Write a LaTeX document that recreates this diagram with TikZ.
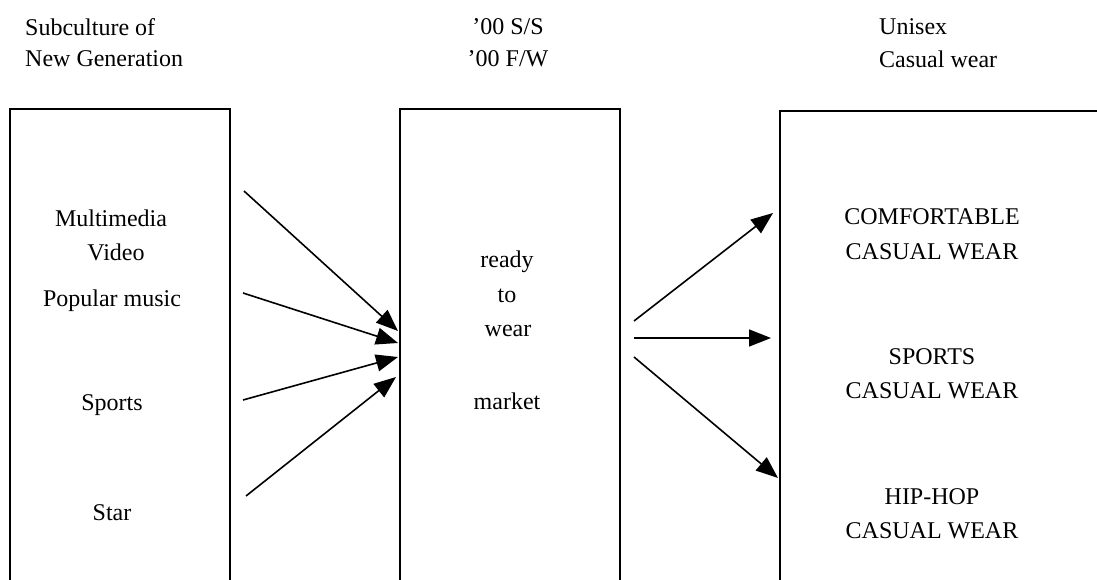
\documentclass[tikz,border=0pt]{standalone}
\usepackage{fontspec}
\setmainfont{Liberation Serif}
\usetikzlibrary{arrows.meta}
\begin{document}
\begin{tikzpicture}[x=1pt,y=-1pt,
  lbl/.style={inner sep=0pt, font=\fontsize{24}{28}\selectfont},
  panel/.style={draw, line width=1.8pt, inner sep=0pt, anchor=north west, minimum height=520pt},
  arr/.style={line width=1.6pt, -{Triangle[length=22pt,width=17pt]}}]
\useasboundingbox (0,0) rectangle (1097,580);
\clip (0,0) rectangle (1097,580);
\fill[white] (0,0) rectangle (1097,580);
% panels
\node[panel, minimum width=220pt] (L) at (9,108) {};
\node[panel, minimum width=220pt] (M) at (399,108) {};
\node[panel, minimum width=340pt] (R) at (779,110) {};
% headings
\node[lbl, anchor=west] (h1) at (25,27) {Subculture of};
\node[lbl, anchor=west] (h2) at (25,59) {New Generation};
\node[lbl] (h3) at (508,27) {’00 S/S};
\node[lbl] (h4) at (508,59) {’00 F/W};
\node[lbl, anchor=west] (h5) at (879,27) {Unisex};
\node[lbl, anchor=west] (h6) at (879,59) {Casual wear};
% left texts
\node[lbl] (l1) at (111,218) {Multimedia};
\node[lbl] (l2) at (116,252) {Video};
\node[lbl] (l3) at (112,301) {Popular music};
\node[lbl] (l4) at (112,405) {Sports};
\node[lbl] (l5) at (112,513) {Star};
% middle texts
\node[lbl] (m1) at (507,262) {ready};
\node[lbl] (m2) at (507,296) {to};
\node[lbl] (m3) at (508,331) {wear};
\node[lbl] (m4) at (507,401) {market};
% right texts
\node[lbl] (r1) at (932,217) {COMFORTABLE};
\node[lbl] (r2) at (932,252) {CASUAL WEAR};
\node[lbl] (r3) at (932,357) {SPORTS};
\node[lbl] (r4) at (932,391) {CASUAL WEAR};
\node[lbl] (r5) at (932,497) {HIP-HOP};
\node[lbl] (r6) at (932,531) {CASUAL WEAR};
% arrow endpoints
\coordinate (a1s) at (244,191); \coordinate (a1e) at (398,331);
\coordinate (a2s) at (243,293); \coordinate (a2e) at (398,343);
\coordinate (a3s) at (243,400); \coordinate (a3e) at (398,357);
\coordinate (a4s) at (246,496); \coordinate (a4e) at (396,377);
\coordinate (b1s) at (634,321); \coordinate (b1e) at (773,213);
\coordinate (b2s) at (634,338); \coordinate (b2e) at (771,338);
\coordinate (b3s) at (634,357); \coordinate (b3e) at (778,478);
\draw[arr] (a1s) -- (a1e);
\draw[arr] (a2s) -- (a2e);
\draw[arr] (a3s) -- (a3e);
\draw[arr] (a4s) -- (a4e);
\draw[arr] (b1s) -- (b1e);
\draw[arr] (b2s) -- (b2e);
\draw[arr] (b3s) -- (b3e);
\end{tikzpicture}
\end{document}
